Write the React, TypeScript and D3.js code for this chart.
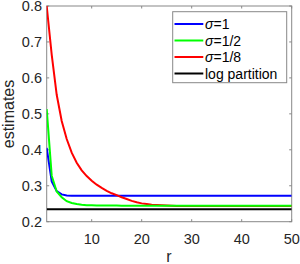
import React, { useEffect, useRef } from 'react';
import * as d3 from 'd3';

// r = 1..50
const rValues = d3.range(1, 51);

const sigma1 = [
  0.405, 0.312, 0.285, 0.276, 0.273, 0.2725, 0.272, 0.272, 0.272, 0.272,
  0.272, 0.272, 0.272, 0.272, 0.272, 0.272, 0.272, 0.272, 0.272, 0.272,
  0.272, 0.272, 0.272, 0.272, 0.272, 0.272, 0.272, 0.272, 0.272, 0.272,
  0.272, 0.272, 0.272, 0.272, 0.272, 0.272, 0.272, 0.272, 0.272, 0.272,
  0.272, 0.272, 0.272, 0.272, 0.272, 0.272, 0.272, 0.272, 0.272, 0.272,
];

const sigmaHalf = [
  0.513, 0.328, 0.284, 0.268, 0.257, 0.252, 0.249, 0.247, 0.246, 0.2455,
  0.245, 0.245, 0.245, 0.2448, 0.2448, 0.2447, 0.2447, 0.2446, 0.2446, 0.2446,
  0.2445, 0.2445, 0.2445, 0.2445, 0.2445, 0.2445, 0.2445, 0.2445, 0.2445, 0.2445,
  0.2445, 0.2445, 0.2445, 0.2445, 0.2445, 0.2445, 0.2445, 0.2445, 0.2445, 0.2445,
  0.2445, 0.2445, 0.2445, 0.2445, 0.2445, 0.2445, 0.2445, 0.2445, 0.2445, 0.2445,
];

const sigmaEighth = [
  0.8, 0.665, 0.553, 0.48, 0.43, 0.392, 0.364, 0.343, 0.327, 0.314,
  0.303, 0.294, 0.286, 0.279, 0.274, 0.268, 0.263, 0.258, 0.254, 0.251,
  0.249, 0.247, 0.2462, 0.2455, 0.245, 0.2445, 0.244, 0.2437, 0.2435, 0.2435,
  0.2435, 0.2435, 0.2436, 0.2437, 0.2438, 0.2439, 0.244, 0.244, 0.244, 0.244,
  0.244, 0.244, 0.244, 0.244, 0.244, 0.244, 0.244, 0.244, 0.244, 0.244,
];

const logPartition = 0.2345;

const xTicks = [10, 20, 30, 40, 50];
const yTicks = [0.2, 0.3, 0.4, 0.5, 0.6, 0.7, 0.8];

const legendLabels = [
  { sym: 'σ', rest: '=1', color: '#0000ff' },
  { sym: 'σ', rest: '=1/2', color: '#00ff00' },
  { sym: 'σ', rest: '=1/8', color: '#ff0000' },
  { sym: '', rest: 'log partition', color: '#000000' },
];

export default function App() {
  const ref = useRef<SVGSVGElement>(null);

  useEffect(() => {
    const svg = d3.select(ref.current);
    svg.selectAll('*').remove();

    const left = 46.7, right = 291.7, top = 6, bottom = 221.7;
    const font = 'Liberation Sans, Arial, Helvetica, sans-serif';
    const axisColor = '#888888';
    const textColor = '#262626';

    const x = d3.scaleLinear().domain([1, 50]).range([left, right]);
    const y = d3.scaleLinear().domain([0.2, 0.8]).range([bottom, top]);

    svg.append('defs').append('clipPath').attr('id', 'plotclip')
      .append('rect')
      .attr('x', left).attr('y', top - 1)
      .attr('width', right - left).attr('height', bottom - top + 1);

    // box + inward ticks
    const g = svg.append('g');
    g.append('rect')
      .attr('x', left).attr('y', top)
      .attr('width', right - left).attr('height', bottom - top)
      .attr('fill', 'none').attr('stroke', axisColor).attr('stroke-width', 1);

    const tl = 2.5;
    xTicks.forEach(t => {
      g.append('line').attr('x1', x(t)).attr('x2', x(t)).attr('y1', bottom).attr('y2', bottom - tl)
        .attr('stroke', axisColor);
      g.append('line').attr('x1', x(t)).attr('x2', x(t)).attr('y1', top).attr('y2', top + tl)
        .attr('stroke', axisColor);
      g.append('text').attr('x', x(t)).attr('y', 243.5)
        .attr('text-anchor', 'middle').attr('font-family', font).attr('font-size', 14.5)
        .attr('fill', textColor).text(t);
    });
    yTicks.forEach(t => {
      g.append('line').attr('x1', left).attr('x2', left + tl).attr('y1', y(t)).attr('y2', y(t))
        .attr('stroke', axisColor);
      g.append('line').attr('x1', right).attr('x2', right - tl).attr('y1', y(t)).attr('y2', y(t))
        .attr('stroke', axisColor);
      g.append('text').attr('x', 42).attr('y', y(t) + 5)
        .attr('text-anchor', 'end').attr('font-family', font).attr('font-size', 14.5)
        .attr('fill', textColor).text(t.toFixed(1));
    });

    // axis labels
    svg.append('text').attr('x', 169).attr('y', 261.5)
      .attr('text-anchor', 'middle').attr('font-family', font).attr('font-size', 16)
      .attr('fill', textColor).text('r');
    svg.append('text')
      .attr('transform', `translate(13.5, 114) rotate(-90)`)
      .attr('text-anchor', 'middle').attr('font-family', font).attr('font-size', 16)
      .attr('fill', textColor).text('estimates');

    // lines
    const line = d3.line<number>()
      .x((_, i) => x(rValues[i]))
      .y(d => y(d));

    const plot = svg.append('g').attr('clip-path', 'url(#plotclip)');
    const series = [
      { values: sigma1, color: '#0000ff' },
      { values: sigmaEighth, color: '#ff0000' },
      { values: sigmaHalf, color: '#00ff00' },
      { values: rValues.map(() => logPartition), color: '#000000' },
    ];
    series.forEach(s => {
      plot.append('path').datum(s.values)
        .attr('d', line)
        .attr('fill', 'none')
        .attr('stroke', s.color)
        .attr('stroke-width', 2);
    });

    // legend
    const lg = svg.append('g');
    lg.append('rect')
      .attr('x', 172.7).attr('y', 11.7).attr('width', 114).attr('height', 71)
      .attr('fill', '#ffffff').attr('stroke', axisColor).attr('stroke-width', 1);
    legendLabels.forEach((d, i) => {
      const ly = 24 + i * 16.5;
      lg.append('line').attr('x1', 174.5).attr('x2', 203.3).attr('y1', ly).attr('y2', ly)
        .attr('stroke', d.color).attr('stroke-width', 2);
      const t = lg.append('text').attr('x', 205).attr('y', ly + 5)
        .attr('font-family', font).attr('font-size', 14).attr('fill', '#000');
      if (d.sym) {
        t.append('tspan').attr('font-style', 'italic').text(d.sym);
      }
      t.append('tspan').text(d.rest);
    });
  }, []);

  return (
    <svg ref={ref} width={300} height={264}
      style={{ position: 'absolute', left: 0, top: 0, background: '#fff' }} />
  );
}
